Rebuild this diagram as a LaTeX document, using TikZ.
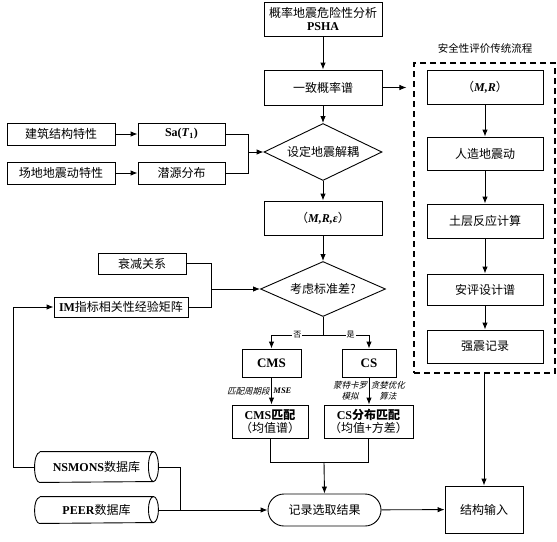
\documentclass[tikz,border=0pt]{standalone}
\usepackage{fontspec}
\setmainfont{Noto Sans CJK SC}
\newfontfamily\lat{Liberation Serif}
\newfontfamily\cjkit{Noto Sans CJK SC}[FakeSlant=0.25]
\usetikzlibrary{arrows.meta,shapes.geometric,shapes.misc}
\newcommand\dbdraw[2]{%
  \draw ([xshift=5pt]#1.north west) -- ([xshift=-5pt]#1.north east)
    arc[start angle=90,end angle=-90,x radius=5pt,y radius=#2]
    -- ([xshift=5pt]#1.south west)
    arc[start angle=270,end angle=90,x radius=5pt,y radius=#2];
  \draw ([xshift=-5pt]#1.north east)
    arc[start angle=90,end angle=270,x radius=5pt,y radius=#2];}

\begin{document}
\begin{tikzpicture}[x=1pt,y=1pt]
\tikzset{every node/.style={font=\fontsize{12}{15}\selectfont,inner sep=2pt}}
\tikzset{box/.style={draw,line width=0.9pt,align=center}}
\tikzset{choice/.style={draw,line width=0.9pt,diamond,aspect=2.1,inner sep=0pt}}
\tikzset{store/.style={inner sep=1pt}}
\tikzset{term/.style={draw,line width=0.9pt,rounded rectangle}}
\tikzset{note/.style={font=\fontsize{8.5}{11}\selectfont\cjkit,align=center,inner sep=1.5pt}}
\tikzset{branch/.style={font=\fontsize{8}{10}\selectfont,fill=white,inner sep=1pt}}
\tikzset{every path/.style={line width=0.9pt}}
\tikzset{>={Latex[length=7pt,width=5.5pt]}}

\useasboundingbox (0,0) rectangle (557,-541);

\node[box,minimum width=118,minimum height=34] (psha) at (323,-19) {概率地震危险性分析\\[-2pt]{\lat\bfseries PSHA}};
\node[box,minimum width=118,minimum height=35] (spec) at (323,-87.5) {一致概率谱};
\node[choice,minimum width=118,minimum height=57] (decouple) at (323,-152) {设定地震解耦};
\node[box,minimum width=118,minimum height=34] (mre) at (323,-218) {（{\lat\bfseries\itshape M,R,ε}）};
\node[choice,minimum width=125,minimum height=55] (sigma) at (323,-289) {考虑标准差?};
\node[box,font=\fontsize{13}{15}\selectfont,minimum width=59,minimum height=28] (cms) at (271.5,-363) {{\lat\bfseries CMS}};
\node[box,font=\fontsize{13}{15}\selectfont,minimum width=54,minimum height=28] (cs) at (369,-363) {{\lat\bfseries CS}};
\node[box,minimum width=76,minimum height=33] (cmsm) at (270,-421.5) {{\lat\bfseries CMS}\textbf{匹配}\\[-2pt]（均值谱）};
\node[box,minimum width=89,minimum height=33] (csm) at (368.5,-421.5) {{\lat\bfseries CS}\textbf{分布匹配}\\[-2pt]（均值+方差）};
\node[term,minimum width=117,minimum height=32] (rec) at (324.5,-510) {记录选取结果};
\node[box,minimum width=78,minimum height=47] (struct) at (484,-509.5) {结构输入};

\node[draw,line width=1.1pt,dash pattern=on 6pt off 4pt,minimum width=141,minimum height=310] (trad) at (484.5,-218) {};
\node[font=\fontsize{10.5}{13}\selectfont] (tradtitle) at (485,-48) {安全性评价传统流程};
\node[box,minimum width=116,minimum height=34] (mr) at (485,-87) {（{\lat\bfseries\itshape M,R}）};
\node[box,minimum width=116,minimum height=33] (art) at (485,-153.5) {人造地震动};
\node[box,minimum width=116,minimum height=34] (soil) at (485,-221) {土层反应计算};
\node[box,minimum width=116,minimum height=31] (design) at (485,-289.5) {安评设计谱};
\node[box,minimum width=116,minimum height=33] (strong) at (485,-346.5) {强震记录};

\node[box,minimum width=108,minimum height=22] (bld) at (61,-134) {建筑结构特性};
\node[box,minimum width=87,minimum height=22] (sa) at (181.5,-134) {{\lat\bfseries Sa(\textit{T}\textsubscript{1})}};
\node[box,minimum width=108,minimum height=22] (site) at (61,-173) {场地地震动特性};
\node[box,minimum width=87,minimum height=22] (src) at (181.5,-173) {潜源分布};
\node[box,minimum width=88,minimum height=21] (atten) at (142,-263.5) {衰减关系};
\node[box,minimum width=134,minimum height=20,inner sep=1pt] (im) at (121,-307) {{\lat\bfseries IM}指标相关性经验矩阵};
\node[store,minimum width=123,minimum height=30] (nsm) at (96.5,-467) {{\lat\bfseries NSMONS}数据库};
\node[store,minimum width=123,minimum height=26] (peer) at (96.5,-510) {{\lat\bfseries PEER}数据库};
\dbdraw{nsm}{15pt}
\dbdraw{peer}{13pt}

\coordinate (j1) at (248,-152);
\coordinate (j2) at (211,-289);
\coordinate (br) at (323,-335);
\coordinate (j3) at (324,-462);
\coordinate (j4) at (180,-510);
\coordinate (j5) at (13,-467);

\draw[->] (psha) -- (spec);
\draw[->] (spec) -- (decouple);
\draw[->] (decouple) -- (mre);
\draw[->] (mre) -- (sigma);
\draw[->,shorten >=7pt] (spec.east) -- (spec.east -| trad.west);
\draw[->] (bld) -- (sa);
\draw[->] (site) -- (src);
\draw (sa.east) -| (j1);
\draw (src.east) -| (j1);
\draw[->] (j1) -- (decouple.west);
\draw (atten.east) -| (j2);
\draw (im.east) -| (j2);
\draw[->] (j2) -- (sigma.west);
\draw (sigma.south) -- (br);
\draw[->] (br) -| node[pos=0.25,branch] {否} (cms.north);
\draw[->] (br) -| node[pos=0.3,branch] {是} (cs.north);
\draw[->] (cms) -- (cms |- cmsm.north)
  node[midway,left,note] {匹配周期段}
  node[midway,right,note] {{\lat\bfseries\itshape MSE}};
\draw[->] (cs) -- (cs |- csm.north)
  node[midway,left,note] {蒙特卡罗\\模拟}
  node[midway,right,note] {贪婪优化\\算法};
\draw (cmsm.south) |- (j3);
\draw (csm.south) |- (j3);
\draw[->] (j3) -- (rec.north);
\draw[->] (rec) -- (struct);
\draw[->] (peer.east) -- (rec.west);
\draw (nsm.east) -| (j4);
\draw[->] (nsm.west) -- (j5) |- (im.west);
\draw[->] (mr) -- (art);
\draw[->] (art) -- (soil);
\draw[->] (soil) -- (design);
\draw[->] (design) -- (strong);
\draw[->] (trad.south -| struct.north) -- (struct.north);

\end{tikzpicture}
\end{document}
